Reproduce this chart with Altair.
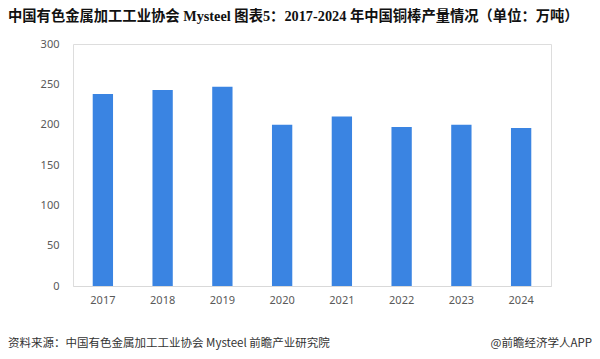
import altair as alt
import pandas as pd

years = ["2017", "2018", "2019", "2020", "2021", "2022", "2023", "2024"]
output = [238, 243, 247, 200, 210, 197, 200, 196]
title_text = "中国有色金属加工工业协会  Mysteel  图表5：2017-2024 年中国铜棒产量情况（单位：万吨）"
source_text = "资料来源：中国有色金属加工工业协会 Mysteel 前瞻产业研究院"
brand_text = "@前瞻经济学人APP"

df = pd.DataFrame({"year": years, "value": output})

W, H = 478, 242
PL, PT = 65, 36

bars = alt.Chart(df).mark_bar(color="#3A84E2").encode(
    x=alt.X("year:N", sort=years, title=None,
            scale=alt.Scale(paddingInner=0.66, paddingOuter=0.33),
            axis=alt.Axis(labelAngle=0, labelColor="#595959", labelFontSize=11,
                          labelFont="Noto Sans", ticks=False, domainColor="#D9D9D9",
                          labelPadding=8)),
    y=alt.Y("value:Q", title=None,
            scale=alt.Scale(domain=[0, 300]),
            axis=alt.Axis(values=[0, 50, 100, 150, 200, 250, 300], grid=False,
                          domain=False, ticks=False, labelColor="#595959",
                          labelFontSize=11, labelFont="Noto Sans", labelPadding=14)),
)

title = alt.Chart(pd.DataFrame({"t": [title_text]})).mark_text(
    align="left", baseline="middle", fontSize=14.3, fontWeight="bold",
    font="'Liberation Serif', 'Noto Sans CJK SC'", color="#111111"
).encode(text="t:N", x=alt.value(-PL), y=alt.value(17 - 8 - PT))

source = alt.Chart(pd.DataFrame({"t": [source_text]})).mark_text(
    align="left", baseline="middle", fontSize=11.5, font="'Noto Sans CJK SC'",
    color="#333333"
).encode(text="t:N", x=alt.value(-PL), y=alt.value(344 - 8 - PT))

brand = alt.Chart(pd.DataFrame({"t": [brand_text]})).mark_text(
    align="right", baseline="middle", fontSize=11.5, font="'Noto Sans CJK SC'",
    color="#333333"
).encode(text="t:N", x=alt.value(592 - 8 - PL), y=alt.value(344 - 8 - PT))

chart = alt.layer(bars, title, source, brand).properties(
    width=W, height=H,
    autosize=alt.AutoSizeParams(type="none"),
    padding={"left": PL, "top": PT, "right": 600 - 16 - W - PL, "bottom": 359 - 16 - H - PT},
).configure_view(stroke=None).configure(background="white")

chart.save("out.html", embed_options={"renderer": "svg", "actions": False})
